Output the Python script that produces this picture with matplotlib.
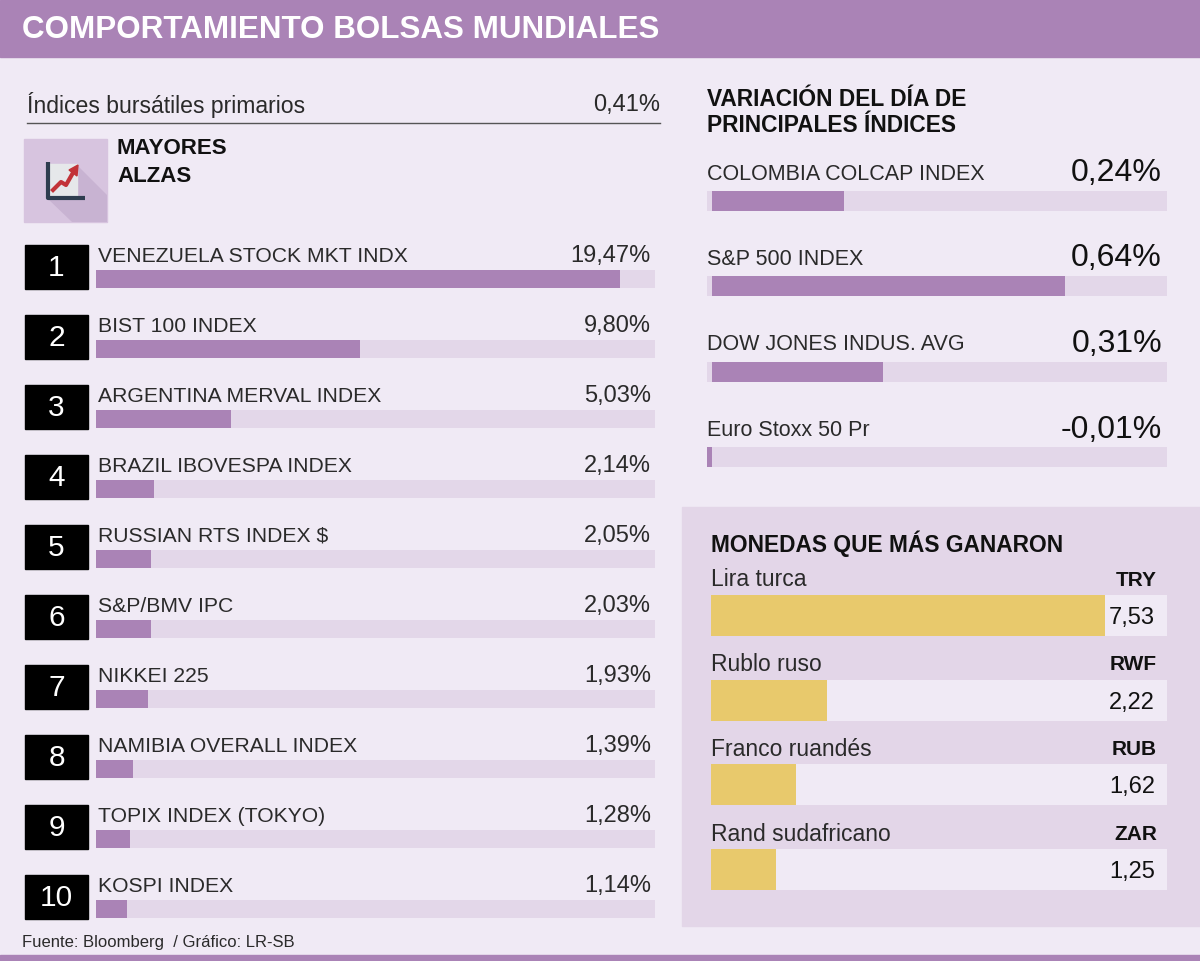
import matplotlib
matplotlib.use("Agg")
import matplotlib.pyplot as plt
from matplotlib.patches import Rectangle, Polygon
from matplotlib import font_manager

# ---------------- data ----------------
title = "COMPORTAMIENTO BOLSAS MUNDIALES"
header_label = "Índices bursátiles primarios"
header_value = 0.41

top_names = ["VENEZUELA STOCK MKT INDX", "BIST 100 INDEX", "ARGENTINA MERVAL INDEX",
             "BRAZIL IBOVESPA INDEX", "RUSSIAN RTS INDEX $", "S&P/BMV IPC",
             "NIKKEI 225", "NAMIBIA OVERALL INDEX", "TOPIX INDEX (TOKYO)", "KOSPI INDEX"]
top_values = [19.47, 9.80, 5.03, 2.14, 2.05, 2.03, 1.93, 1.39, 1.28, 1.14]

main_names = ["COLOMBIA COLCAP INDEX", "S&P 500 INDEX", "DOW JONES INDUS. AVG", "Euro Stoxx 50 Pr"]
main_values = [0.24, 0.64, 0.31, -0.01]

cur_names = ["Lira turca", "Rublo ruso", "Franco ruandés", "Rand sudafricano"]
cur_codes = ["TRY", "RWF", "RUB", "ZAR"]
cur_values = [7.53, 2.22, 1.62, 1.25]

source = "Fuente: Bloomberg  / Gráfico: LR-SB"

# ---------------- style ----------------
W, H = 1200, 961
BG = "#F0EAF5"
PURPLE = "#AA83B6"
TRACK = "#E3D7E9"
GOLD = "#E8C96C"
PANEL = "#E3D6E8"
TXT = "#2A2A2A"

avail = {f.name for f in font_manager.fontManager.ttflist}
FONT = "Liberation Sans Narrow" if "Liberation Sans Narrow" in avail else "Liberation Sans"
plt.rcParams["font.family"] = [FONT, "DejaVu Sans"]

def fmt(v, dec=2):
    return f"{v:.{dec}f}".replace(".", ",")

fig = plt.figure(figsize=(W / 100, H / 100), dpi=100)
fig.patch.set_facecolor(BG)
ax0 = fig.add_axes([0, 0, 1, 1])
ax0.set_xlim(0, W)
ax0.set_ylim(H, 0)
ax0.axis("off")
ax0.set_facecolor(BG)

def px_axes(x0, y0, x1, y1):
    a = fig.add_axes([x0 / W, 1 - y1 / H, (x1 - x0) / W, (y1 - y0) / H])
    a.axis("off")
    return a

# title bar
ax0.add_patch(Rectangle((0, 0), W, 57, color=PURPLE, zorder=1))
ax0.text(22, 30, title, color="white", fontsize=22.6, fontweight="bold",
         va="center", ha="left", zorder=2)
ax0.add_patch(Rectangle((0, 955), W, 6, color=PURPLE, zorder=1))

# header line
ax0.text(27, 105, header_label, fontsize=16.6, va="center", ha="left", color=TXT)
ax0.text(660, 105, fmt(header_value) + "%", fontsize=17, va="center", ha="right", color=TXT)
ax0.plot([27, 660], [123, 123], color="#555555", lw=1)

# icon
ax0.add_patch(Rectangle((24, 139), 83, 83, color="#D7C4DF", zorder=1))
ax0.add_patch(Polygon([(77, 165), (107, 195), (107, 222), (72, 222), (47, 198), (77, 198)],
                      closed=True, color="#C8B3D2", zorder=2, lw=0))
ax0.add_patch(Rectangle((49, 164), 28, 33, color="#E6E8EA", zorder=3))
ax0.plot([48, 48, 85], [162, 198, 198], color="#2E3D4F", lw=3, zorder=4, solid_capstyle="butt")
ax0.plot([53, 61, 66, 74], [190, 182, 185, 171], color="#C23338", lw=3, zorder=5)
ax0.add_patch(Polygon([(69, 170), (78, 165), (77, 176)], closed=True, color="#C23338", zorder=5))
ax0.text(117, 148, "MAYORES", fontsize=16, fontweight="bold", va="center", ha="left", color="#111111")
ax0.text(117, 176, "ALZAS", fontsize=16, fontweight="bold", va="center", ha="left", color="#111111")

# ---------------- left ranking ----------------
ROW = 70.0
LEFT_MAX = 559 / 26.9
n = len(top_values)
for i, (name, v) in enumerate(zip(top_names, top_values)):
    y = 245 + ROW * i
    ax0.add_patch(Rectangle((25, y), 63, 44, color="black", zorder=2))
    ax0.text(56.5, y + 23, str(i + 1), color="white", fontsize=21.5, va="center", ha="center", zorder=3)
    ax0.text(98, 256 + ROW * i, name, fontsize=15.2, va="center", ha="left", color=TXT)
    ax0.text(651, 256 + ROW * i, fmt(v) + "%", fontsize=17, va="center", ha="right", color=TXT)

axL = px_axes(96, 279 - ROW / 2, 655, 279 + ROW * (n - 0.5))
ypos = list(range(n))
axL.barh(ypos, [LEFT_MAX] * n, height=18 / ROW, color=TRACK, left=0)
axL.barh(ypos, top_values, height=18 / ROW, color=PURPLE)
axL.set_xlim(0, LEFT_MAX)
axL.set_ylim(n - 0.5, -0.5)

# ---------------- right: main indices ----------------
ax0.text(707, 100, "VARIACIÓN DEL DÍA DE", fontsize=16.4, fontweight="bold", va="center", ha="left", color="#111111")
ax0.text(707, 125, "PRINCIPALES ÍNDICES", fontsize=16.4, fontweight="bold", va="center", ha="left", color="#111111")
R2 = 85.5
SCALE2 = 551.6
m = len(main_values)
for i, (name, v) in enumerate(zip(main_names, main_values)):
    ax0.text(707, 174 + R2 * i, name, fontsize=15.5, va="center", ha="left", color=TXT)
    ax0.text(1162, 173 + R2 * i, fmt(v) + "%", fontsize=23, va="center", ha="right", color="#111111")
axR = px_axes(707, 200.5 - R2 / 2, 1167, 200.5 + R2 * (m - 0.5))
x0d, x1d = -5 / SCALE2, 455 / SCALE2
axR.barh(range(m), [x1d - x0d] * m, left=x0d, height=20 / R2, color=TRACK)
axR.barh(range(m), main_values, height=20 / R2, color=PURPLE)
axR.set_xlim(x0d, x1d)
axR.set_ylim(m - 0.5, -0.5)

# ---------------- currencies ----------------
ax0.add_patch(Rectangle((682, 507), 518, 419, color=PANEL, zorder=0))
ax0.text(711, 544, "MONEDAS QUE MÁS GANARON", fontsize=16.4, fontweight="bold", va="center", ha="left", color="#111111")
R3 = 84.7
SCALE3 = 52.3
k = len(cur_values)
for i, (name, code, v) in enumerate(zip(cur_names, cur_codes, cur_values)):
    ax0.text(711, 580 + R3 * i, name, fontsize=16.5, va="center", ha="left", color=TXT)
    ax0.text(1157, 580 + R3 * i, code, fontsize=15, fontweight="bold", va="center", ha="right", color="#111111")
axC = px_axes(711, 615.5 - R3 / 2, 1167, 615.5 + R3 * (k - 0.5))
cmax = 456 / SCALE3
axC.barh(range(k), [cmax] * k, height=41 / R3, color=BG)
axC.barh(range(k), cur_values, height=41 / R3, color=GOLD)
for i, v in enumerate(cur_values):
    axC.text(cmax - 12 / SCALE3, i + 0.03, fmt(v), fontsize=17, va="center", ha="right", color="#111111")
axC.set_xlim(0, cmax)
axC.set_ylim(k - 0.5, -0.5)

ax0.text(22, 943, source, fontsize=12, va="center", ha="left", color=TXT)

fig.savefig("out.png", dpi=100, facecolor=BG)
